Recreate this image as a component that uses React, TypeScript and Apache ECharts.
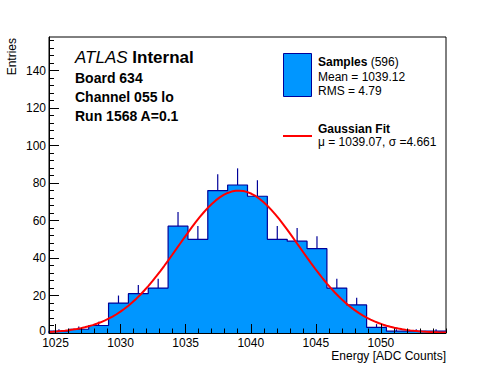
import React, { useEffect, useRef } from "react";
import * as echarts from "echarts";

// ---- data ----
const X_MIN = 1024.5;
const X_MAX = 1055;
const COUNTS = [1, 2, 4, 16, 21, 24, 57, 50, 76, 79, 73, 50, 49, 45, 24, 15, 3, 1, 1, 1];
const X_MAJOR = [1025, 1030, 1035, 1040, 1045, 1050];
const Y_MAJOR = [0, 20, 40, 60, 80, 100, 120, 140];
const Y_MAX = 158;
const FIT_MU = 1039.07;
const FIT_SIGMA = 4.661;
const FIT_CONST = 76;
const N_SAMPLES = 596;
const MEAN = "1039.12";
const RMS = "4.79";

const BLUE = "#0096ff";
const NAVY = "#000099";
const FONT = "'Liberation Sans', Arial, Helvetica, sans-serif";

const X_MINOR: number[] = [];
for (let v = 1025; v <= 1055; v++) if (X_MAJOR.indexOf(v) < 0) X_MINOR.push(v);
const Y_MINOR: number[] = [];
for (let v = 4; v < Y_MAX; v += 4) if (v % 20 !== 0) Y_MINOR.push(v);

export default function App() {
  const ref = useRef<HTMLDivElement>(null);
  useEffect(() => {
    if (!ref.current) return;
    const chart = echarts.init(ref.current, undefined, { renderer: "svg" });
    const w = (X_MAX - X_MIN) / COUNTS.length;
    const step: number[][] = [[X_MIN, 0]];
    const errs: number[][] = [];
    COUNTS.forEach((c, i) => {
      const lo = X_MIN + i * w;
      const hi = lo + w;
      step.push([lo, c], [hi, c]);
      if (c > 0) errs.push([lo + w / 2, c, c + Math.sqrt(c)]);
    });
    step.push([X_MAX, 0]);
    const fit: number[][] = [];
    const NP = 100;
    for (let i = 0; i <= NP; i++) {
      const x = X_MIN + ((X_MAX - X_MIN) * i) / NP;
      fit.push([x, FIT_CONST * Math.exp(-0.5 * Math.pow((x - FIT_MU) / FIT_SIGMA, 2))]);
    }
    const base = { color: "#000", fontSize: 12, fontFamily: FONT };
    chart.setOption({
      animation: false,
      grid: {
        left: 49, right: 50, top: 37, bottom: 39,
        show: true, borderColor: "#000", borderWidth: 1, backgroundColor: "transparent",
      },
      xAxis: [
        {
          type: "value", min: X_MIN, max: X_MAX, position: "bottom", z: 10,
          axisLine: { show: true, onZero: false, lineStyle: { color: "#000", width: 1 } },
          axisTick: { show: true, inside: true, length: 9, customValues: X_MAJOR, lineStyle: { color: "#000" } },
          axisLabel: { show: true, customValues: X_MAJOR, margin: 4, ...base, formatter: (v: number) => String(v) },
          splitLine: { show: false },
        },
        {
          type: "value", min: X_MIN, max: X_MAX, position: "bottom", z: 10,
          axisLine: { show: false, onZero: false },
          axisTick: { show: true, inside: true, length: 4.5, customValues: X_MINOR, lineStyle: { color: "#000" } },
          axisLabel: { show: false },
          splitLine: { show: false },
        },
      ],
      yAxis: [
        {
          type: "value", min: 0, max: Y_MAX, position: "left", z: 10,
          axisLine: { show: true, onZero: false, lineStyle: { color: "#000", width: 1 } },
          axisTick: { show: true, inside: true, length: 10, customValues: Y_MAJOR, lineStyle: { color: "#000" } },
          axisLabel: {
            show: true, customValues: Y_MAJOR, margin: 3, ...base,
            formatter: (v: number) => (v === 0 ? "{z|0}" : String(v)),
            rich: { z: { ...base, padding: [0, 0, 5, 0] } },
          },
          splitLine: { show: false },
        },
        {
          type: "value", min: 0, max: Y_MAX, position: "left", z: 10,
          axisLine: { show: false, onZero: false },
          axisTick: { show: true, inside: true, length: 5, customValues: Y_MINOR, lineStyle: { color: "#000" } },
          axisLabel: { show: false },
          splitLine: { show: false },
        },
      ],
      series: [
        {
          type: "custom", xAxisIndex: 0, yAxisIndex: 0, z: 1,
          data: errs,
          encode: { x: 0, y: [1, 2] },
          renderItem: (params: any, api: any) => {
            const p0 = api.coord([api.value(0), api.value(1)]);
            const p1 = api.coord([api.value(0), api.value(2)]);
            return {
              type: "line",
              shape: { x1: p0[0], y1: p0[1], x2: p1[0], y2: p1[1] },
              style: { stroke: NAVY, lineWidth: 1.2 },
            };
          },
        },
        {
          type: "line", xAxisIndex: 0, yAxisIndex: 0, z: 2,
          data: step, symbol: "none", showSymbol: false,
          lineStyle: { color: NAVY, width: 1.2 },
          areaStyle: { color: BLUE, opacity: 1 },
        },
        {
          type: "line", xAxisIndex: 0, yAxisIndex: 0, z: 4,
          data: fit, symbol: "none", showSymbol: false, smooth: false,
          lineStyle: { color: "#ff0000", width: 2 },
        },
      ],
      graphic: [
        {
          type: "text", x: 12, y: 38, rotation: Math.PI / 2,
          style: { text: "Entries", font: `12px ${FONT}`, fill: "#000", align: "right", verticalAlign: "middle" },
        },
        {
          type: "text", x: 446, y: 356,
          style: { text: "Energy [ADC Counts]", font: `12px ${FONT}`, fill: "#000", align: "right", verticalAlign: "middle" },
        },
        {
          type: "text", x: 75, y: 57,
          style: {
            text: "{a|ATLAS} {b|Internal}", verticalAlign: "middle", fill: "#000",
            rich: {
              a: { fontStyle: "italic", fontSize: 17, fontFamily: FONT, fill: "#000" },
              b: { fontWeight: "bold", fontSize: 17, fontFamily: FONT, fill: "#000" },
            },
            fontSize: 17, fontFamily: FONT,
          },
        },
        { type: "text", x: 75, y: 77.5, style: { text: "Board 634", font: `bold 14px ${FONT}`, fill: "#000", verticalAlign: "middle" } },
        { type: "text", x: 75, y: 96.5, style: { text: "Channel 055 lo", font: `bold 14px ${FONT}`, fill: "#000", verticalAlign: "middle" } },
        { type: "text", x: 75, y: 115.5, style: { text: "Run 1568 A=0.1", font: `bold 14px ${FONT}`, fill: "#000", verticalAlign: "middle" } },
        {
          type: "rect", shape: { x: 283.5, y: 53.5, width: 28, height: 43 },
          style: { fill: BLUE, stroke: NAVY, lineWidth: 1 },
        },
        {
          type: "text", x: 318, y: 62,
          style: {
            text: `{b|Samples} {n|(${N_SAMPLES})}`, verticalAlign: "middle", fill: "#000",
            rich: {
              b: { fontWeight: "bold", fontSize: 12, fontFamily: FONT, fill: "#000" },
              n: { fontSize: 12, fontFamily: FONT, fill: "#000" },
            },
            fontSize: 12, fontFamily: FONT,
          },
        },
        { type: "text", x: 318, y: 77, style: { text: `Mean = ${MEAN}`, font: `12px ${FONT}`, fill: "#000", verticalAlign: "middle" } },
        { type: "text", x: 318, y: 90.5, style: { text: `RMS = ${RMS}`, font: `12px ${FONT}`, fill: "#000", verticalAlign: "middle" } },
        {
          type: "line", shape: { x1: 283, y1: 136, x2: 312, y2: 136 },
          style: { stroke: "#ff0000", lineWidth: 2 },
        },
        { type: "text", x: 318, y: 128.5, style: { text: "Gaussian Fit", font: `bold 12px ${FONT}`, fill: "#000", verticalAlign: "middle" } },
        {
          type: "text", x: 318, y: 141.5,
          style: { text: `\u03bc = ${FIT_MU}, \u03c3 =${FIT_SIGMA}`, font: `12px ${FONT}`, fill: "#000", verticalAlign: "middle" },
        },
      ],
    });
    return () => chart.dispose();
  }, []);
  return <div ref={ref} style={{ position: "fixed", left: 0, top: 0, width: 496, height: 372, background: "#fff" }} />;
}
